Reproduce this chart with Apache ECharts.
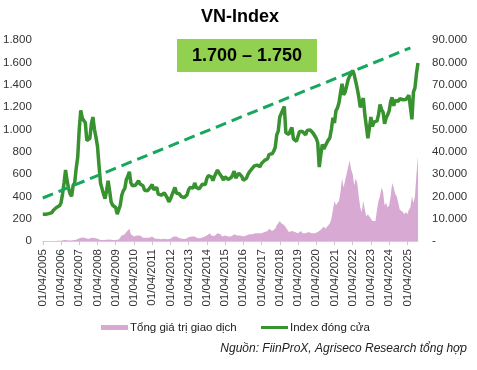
<!DOCTYPE html>
<html>
<head>
<meta charset="utf-8">
<script src="https://cdn.jsdelivr.net/npm/echarts@6/dist/echarts.min.js"></script>
<style>
html,body{margin:0;padding:0;background:#fff;}
#chart{width:477px;height:370px;}
</style>
</head>
<body>
<div id="chart"></div>
<script>
// Monthly categories Jan 2005 .. Aug 2025
const startYear = 2005, endYear = 2025, endMonth = 8;
const categories = [];
for (let y = startYear; y <= endYear; y++) {
  for (let m = 1; m <= 12; m++) {
    if (y === endYear && m > endMonth) break;
    categories.push(y + '-' + (m < 10 ? '0' + m : m));
  }
}

const tickLabels = ['01/04/2005','01/04/2006','01/04/2007','01/04/2008','01/04/2009','01/04/2010',
  '01/04/2011','01/04/2012','01/04/2013','01/04/2014','01/04/2015','01/04/2016','01/04/2017',
  '01/04/2018','01/04/2019','01/04/2020','01/04/2021','01/04/2022','01/04/2023','01/04/2024','01/04/2025'];

// VN-Index close (points), monthly
const indexClose = [
  240, 238, 240, 242, 245, 248, 255, 275, 290, 300, 310, 315,       // 2005
  340, 420, 520, 636, 540, 470, 420, 400, 500, 520, 650, 750,       // 2006
  1000, 1170, 1100, 1080, 1060, 900, 890, 920, 1050, 1110, 1000, 930, // 2007
  850, 680, 520, 520, 420, 380, 450, 540, 450, 350, 320, 315,       // 2008
  300, 240, 280, 320, 410, 450, 470, 550, 580, 620, 520, 495,       // 2009
  480, 500, 500, 540, 510, 505, 495, 455, 455, 450, 455, 485,       // 2010
  505, 460, 460, 480, 420, 430, 410, 415, 430, 415, 385, 351,       // 2011
  375, 410, 420, 480, 430, 422, 421, 400, 392, 388, 380, 413,       // 2012
  460, 480, 490, 475, 520, 480, 485, 467, 480, 508, 507, 505,       // 2013
  560, 585, 592, 575, 540, 578, 585, 636, 610, 600, 570, 545,       // 2014
  575, 590, 551, 562, 568, 593, 625, 563, 568, 607, 593, 579,       // 2015
  545, 560, 561, 595, 618, 632, 652, 670, 686, 680, 666, 665,       // 2016
  695, 710, 722, 718, 737, 776, 783, 781, 804, 837, 950, 984,       // 2017
  1110, 1121, 1174, 1204, 970, 960, 955, 990, 1017, 915, 925, 893,  // 2018
  910, 980, 980, 980, 965, 950, 990, 985, 995, 1000, 965, 961,      // 2019
  920, 880, 662, 770, 865, 825, 835, 880, 905, 925, 1003, 1104,     // 2020
  1056, 1168, 1191, 1239, 1328, 1408, 1310, 1331, 1342, 1444, 1478, 1498, // 2021
  1528, 1490, 1492, 1366, 1292, 1197, 1206, 1280, 1132, 1028, 920, 1007,  // 2022
  1111, 1026, 1065, 1049, 1075, 1129, 1223, 1177, 1154, 1050, 1102, 1130, // 2023
  1165, 1250, 1285, 1210, 1260, 1245, 1251, 1275, 1287, 1265, 1250, 1267, // 2024
  1256, 1305, 1318, 1090, 1333, 1371, 1500, 1595                    // 2025
];

// Total trading value (billion VND), monthly
const tradeValue = [
  30, 30, 30, 30, 40, 40, 50, 50, 50, 60, 60, 80,
  100, 200, 400, 600, 300, 250, 200, 200, 350, 400, 600, 900,
  1200, 1500, 1600, 1100, 1300, 1200, 900, 1000, 1500, 1600, 1300, 1100,
  1000, 700, 500, 600, 500, 500, 600, 900, 700, 500, 500, 500,
  400, 300, 700, 1500, 2500, 3000, 3000, 4000, 4500, 5500, 3000, 2500,
  2000, 2000, 2500, 3000, 2500, 2000, 1500, 1500, 1500, 1500, 1500, 2000,
  2000, 1500, 1000, 1200, 1000, 900, 800, 1000, 1000, 900, 800, 800,
  1000, 1800, 2000, 2500, 2000, 1500, 1200, 1500, 1000, 1000, 900, 1200,
  1700, 1800, 2000, 1500, 2000, 1500, 1200, 1300, 1300, 1800, 1800, 1500,
  2500, 3000, 3500, 2500, 2500, 2200, 2500, 3500, 3500, 3000, 2000, 2200,
  2500, 2500, 2000, 1800, 2000, 2500, 3000, 3000, 2500, 2800, 2500, 2300,
  2000, 2000, 2500, 2800, 3000, 3500, 3000, 3500, 3500, 3200, 3500, 3000,
  3500, 4000, 4000, 4200, 4500, 5500, 5000, 4500, 4500, 5500, 7000, 8000,
  9000, 8000, 8500, 7000, 6000, 5000, 4000, 4500, 4500, 5000, 4000, 3500,
  3500, 4000, 4500, 3500, 3500, 3500, 3800, 4000, 3500, 3500, 3500, 3500,
  3500, 4000, 4500, 5000, 5500, 6500, 5500, 6000, 7000, 8000, 10000, 14000,
  18000, 16000, 17000, 18000, 22000, 28000, 24000, 27000, 30000, 33000, 36000, 32000,
  30000, 25000, 28000, 26000, 20000, 15000, 13000, 18000, 14000, 11000, 12000, 11000,
  10000, 9000, 9500, 9000, 14000, 18000, 20000, 24000, 22000, 16000, 17000, 15000,
  16000, 20000, 26000, 24000, 21000, 20000, 17000, 14000, 14000, 13000, 12000, 13000,
  12000, 14000, 15000, 20000, 17000, 20000, 30000, 38000
];

// Dashed trend line end points [category, index level]
const trendPoints = [['2005-01', 385], ['2025-03', 1730]];

const targetText = '1.700 – 1.750';
const seriesNames = ['Tổng giá trị giao dịch', 'Index đóng cửa'];
const sourceText = 'Nguồn: FiinProX, Agriseco Research tổng hợp';

const FONT = '"Liberation Sans", Arial, sans-serif';
const PINK = '#d8a9d2', GREEN = '#37922f';
function fmtThousands(v) {
  return String(v).replace(/\B(?=(\d{3})+(?!\d))/g, '.');
}
const isJan = (idx, val) => String(val).endsWith('-01');

const chart = echarts.init(document.getElementById('chart'), null, {renderer: 'canvas'});
chart.setOption({
  animation: false,
  backgroundColor: '#fff',
  textStyle: {fontFamily: FONT},
  title: {
    text: 'VN-Index', left: 196, top: 3,
    textStyle: {fontSize: 18, fontWeight: 'bold', color: '#000', fontFamily: FONT}
  },
  grid: {left: 41, right: 59, top: 40, bottom: 129, containLabel: false},
  xAxis: {
    type: 'category', data: categories, boundaryGap: false,
    axisLine: {show: true, lineStyle: {color: '#d0d0d0', width: 1}},
    axisTick: {show: true, interval: isJan, length: 4, lineStyle: {color: '#c8c8c8'}},
    axisLabel: {
      interval: isJan, rotate: 90, margin: 8, fontSize: 11.5, color: '#333', fontFamily: FONT,
      formatter: (val) => tickLabels[parseInt(val.slice(0, 4), 10) - startYear]
    },
    splitLine: {show: false}
  },
  yAxis: [
    {
      type: 'value', min: 0, max: 1800, interval: 200,
      axisLine: {show: false}, axisTick: {show: false}, splitLine: {show: false},
      axisLabel: {margin: 11, fontSize: 11.5, color: '#333', fontFamily: FONT, formatter: fmtThousands}
    },
    {
      type: 'value', min: 0, max: 90000, interval: 10000, position: 'right',
      axisLine: {show: false}, axisTick: {show: false}, splitLine: {show: false},
      axisLabel: {margin: 14, fontSize: 11.5, color: '#333', fontFamily: FONT,
        formatter: (v) => v === 0 ? '-' : fmtThousands(v)}
    }
  ],
  series: [
    {
      name: seriesNames[0], type: 'line', yAxisIndex: 1, data: tradeValue,
      symbol: 'none', lineStyle: {width: 0, color: PINK},
      itemStyle: {color: PINK},
      areaStyle: {color: PINK, opacity: 1}, z: 1
    },
    {
      name: seriesNames[1], type: 'line', yAxisIndex: 0, data: indexClose,
      symbol: 'none', lineStyle: {width: 3.5, color: GREEN},
      itemStyle: {color: GREEN}, z: 3
    },
    {
      name: 'trend', type: 'line', yAxisIndex: 0, data: trendPoints,
      symbol: 'none', lineStyle: {width: 3, color: '#17a75d', type: [11, 6]}, z: 4
    }
  ],
  graphic: [
    {type: 'rect', left: 177, top: 39, shape: {width: 140, height: 33}, style: {fill: '#92d050'}, z: 10},
    {type: 'text', x: 247, y: 56, style: {text: targetText, fill: '#000', align: 'center',
      verticalAlign: 'middle', font: 'bold 18px ' + FONT}, z: 11},
    // legend
    {type: 'rect', x: 101, y: 325, shape: {width: 27, height: 5}, style: {fill: PINK}, z: 11},
    {type: 'text', x: 130, y: 327.5, style: {text: seriesNames[0], fill: '#222', align: 'left',
      verticalAlign: 'middle', font: '11.5px ' + FONT}, z: 11},
    {type: 'line', shape: {x1: 261, y1: 327.5, x2: 288, y2: 327.5}, style: {stroke: GREEN, lineWidth: 3}, z: 11},
    {type: 'text', x: 290, y: 327.5, style: {text: seriesNames[1], fill: '#222', align: 'left',
      verticalAlign: 'middle', font: '11.5px ' + FONT}, z: 11},
    // source
    {type: 'text', x: 467, y: 349, style: {text: sourceText, fill: '#222', align: 'right',
      verticalAlign: 'middle', font: 'italic 12px ' + FONT}, z: 11}
  ]
});
</script>
</body>
</html>
